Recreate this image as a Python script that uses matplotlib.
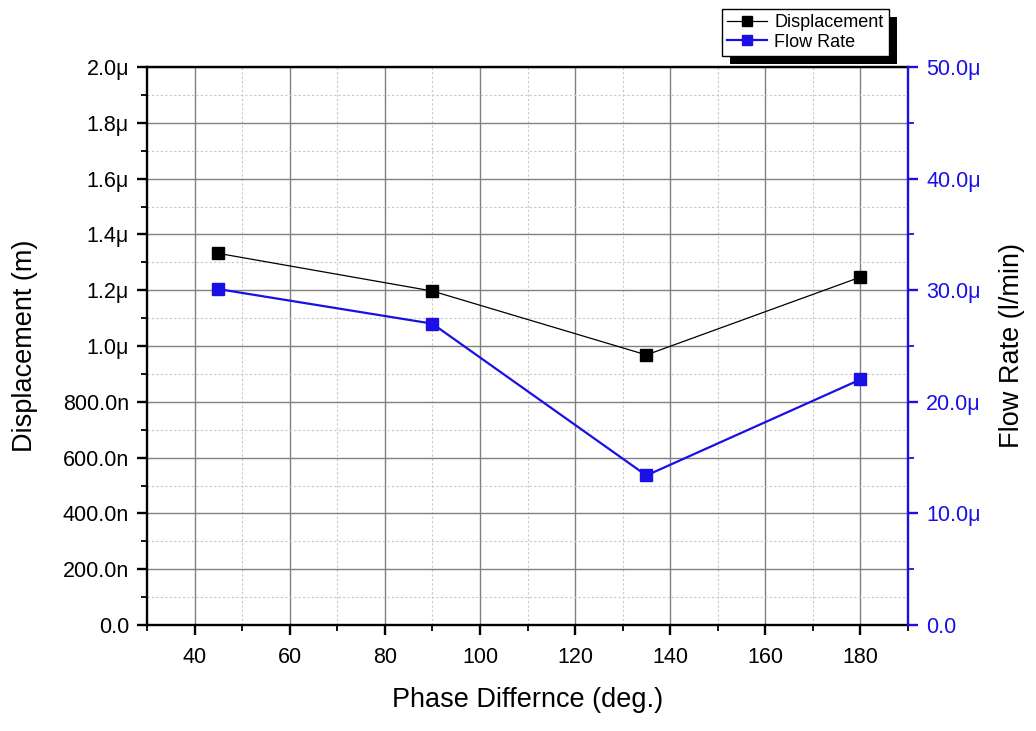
import matplotlib
matplotlib.use("Agg")
import matplotlib.pyplot as plt
from matplotlib.ticker import MultipleLocator, FuncFormatter
from matplotlib.patches import Rectangle

plt.rcParams['font.family'] = ['Liberation Sans', 'DejaVu Sans']

phase = [45, 90, 135, 180]
displacement = [1.332e-6, 1.197e-6, 0.968e-6, 1.247e-6]
flow_rate = [30.1e-6, 27.0e-6, 13.4e-6, 22.0e-6]

blue = '#1a10e6'


def left_fmt(v, pos):
    if abs(v) < 1e-12:
        return '0.0'
    if v < 0.999e-6:
        return '%.1fn' % (v * 1e9)
    return '%.1fμ' % (v * 1e6)


def right_fmt(v, pos):
    if abs(v) < 1e-12:
        return '0.0'
    return '%.1fμ' % (v * 1e6)


fig = plt.figure(figsize=(10.36, 7.31), dpi=100)
ax = fig.add_axes([147 / 1036, 106 / 731, 761 / 1036, 558 / 731])
ax2 = ax.twinx()

l1, = ax.plot(phase, displacement, color='black', lw=0.9, marker='s',
              markersize=8.5, markerfacecolor='black', markeredgecolor='black',
              label='Displacement', zorder=5)
l2, = ax2.plot(phase, flow_rate, color=blue, lw=1.6, marker='s',
               markersize=8.5, markerfacecolor=blue, markeredgecolor=blue,
               label='Flow Rate', zorder=5)

ax.set_xlim(30, 190)
ax.set_ylim(0, 2.0e-6)
ax2.set_ylim(0, 50e-6)

ax.xaxis.set_major_locator(MultipleLocator(20))
ax.xaxis.set_minor_locator(MultipleLocator(10))
ax.yaxis.set_major_locator(MultipleLocator(0.2e-6))
ax.yaxis.set_minor_locator(MultipleLocator(0.1e-6))
ax.yaxis.set_major_formatter(FuncFormatter(left_fmt))
ax2.yaxis.set_major_locator(MultipleLocator(10e-6))
ax2.yaxis.set_minor_locator(MultipleLocator(5e-6))
ax2.yaxis.set_major_formatter(FuncFormatter(right_fmt))

ax.grid(which='major', color='#808080', lw=1.0, ls='-')
ax.grid(which='minor', color='#c8c8c8', lw=0.8, ls=(0, (2, 2)))
ax.set_axisbelow(True)

for s in ['left', 'bottom', 'top']:
    ax.spines[s].set_linewidth(1.7)
    ax.spines[s].set_color('black')
for s in ['left', 'bottom', 'top']:
    ax2.spines[s].set_visible(False)
ax2.spines['right'].set_linewidth(1.7)
ax2.spines['right'].set_color(blue)
ax.spines['right'].set_visible(False)

ax.tick_params(which='major', direction='out', length=7, width=1.7,
               labelsize=15.5, pad=6)
ax.tick_params(axis='x', which='major', pad=9)
ax.tick_params(which='minor', direction='out', length=4, width=1.3)
ax2.tick_params(which='major', direction='out', length=7, width=1.7,
                labelsize=15.5, colors=blue, pad=6)
ax2.tick_params(which='minor', direction='out', length=4, width=1.3,
                colors=blue)

ax.set_xlabel('Phase Differnce (deg.)', fontsize=19.5)
ax.set_ylabel('Displacement (m)', fontsize=19.5)
ax2.set_ylabel('Flow Rate (l/min)', fontsize=19.5)

ax.xaxis.set_label_coords(0.5, (625 - 700) / 558)
ax.xaxis.label.set_verticalalignment('center')
ax.yaxis.set_label_coords((25 - 147) / 761, 0.5)
ax.yaxis.label.set_verticalalignment('center')
ax2.yaxis.set_label_coords((1012 - 147) / 761, 0.5)
ax2.yaxis.label.set_verticalalignment('center')

leg = fig.legend(handles=[l1, l2], loc='upper left',
                 bbox_to_anchor=(722 / 1036, 1 - 9 / 731),
                 fontsize=13, frameon=True, fancybox=False,
                 edgecolor='black', framealpha=1, borderpad=0.3,
                 handlelength=2.2, handletextpad=0.4, labelspacing=0.12,
                 borderaxespad=0, markerscale=0.85)
leg.get_frame().set_linewidth(1.0)
leg.set_zorder(20)

fig.canvas.draw()
bb = leg.get_window_extent()
shadow = Rectangle((bb.x0 + 8, bb.y0 - 8), bb.width, bb.height,
                   transform=None, facecolor='black', edgecolor='none',
                   zorder=19)
fig.add_artist(shadow)

fig.savefig('out.png', dpi=100)
